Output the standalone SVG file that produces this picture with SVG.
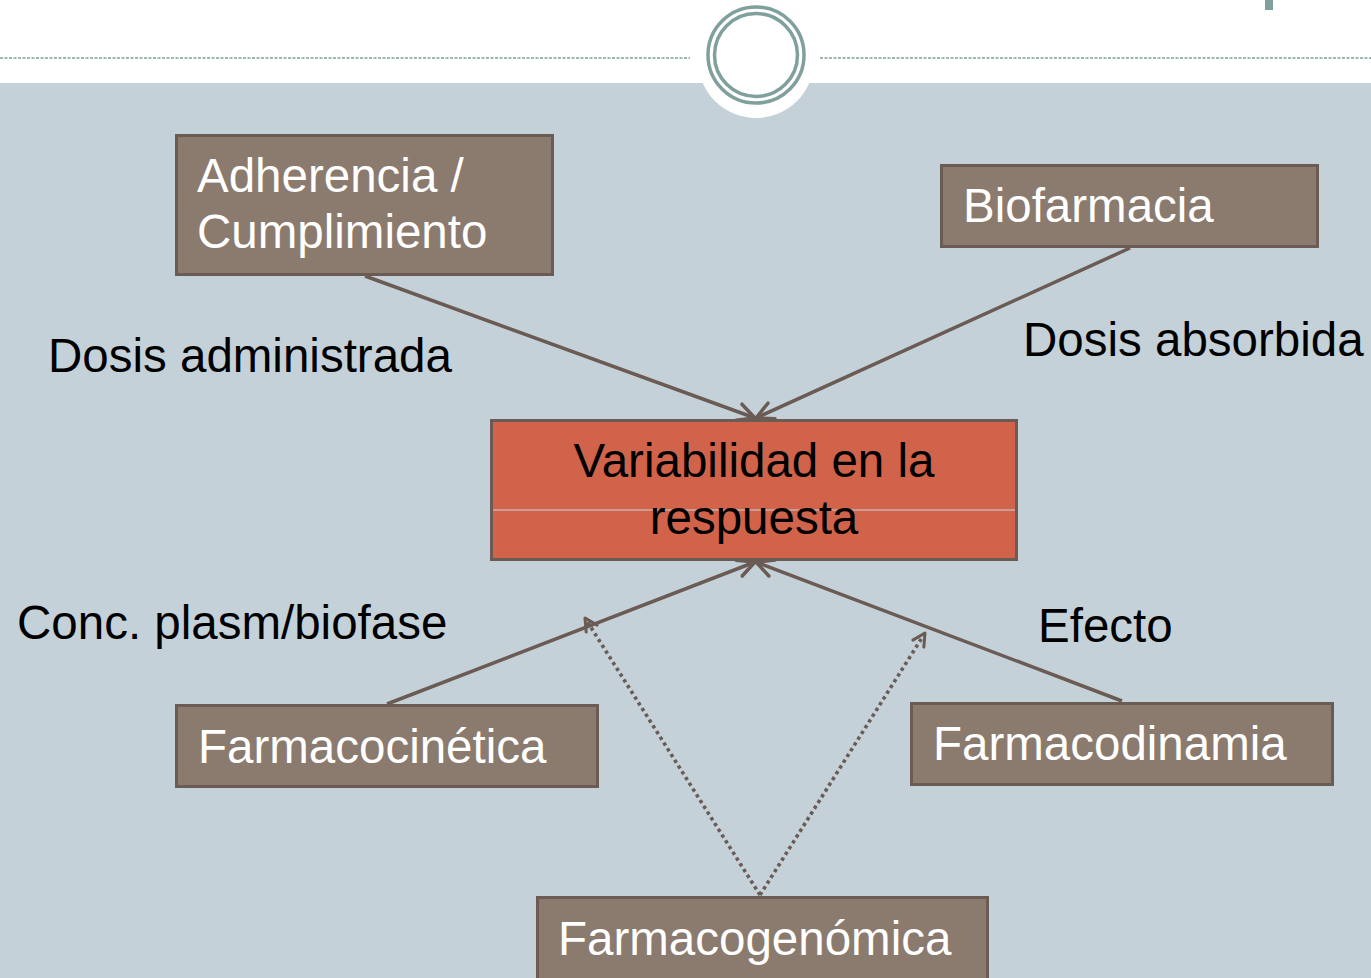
<svg xmlns="http://www.w3.org/2000/svg" width="1371" height="978" viewBox="0 0 1371 978">
<defs>
<style>
.box{fill:#8B7A6E;stroke:#6A5C54;stroke-width:3}
.lbl{font-family:"Liberation Sans",Arial,sans-serif;font-size:47.5px;fill:#FFFFFF}
.txt{font-family:"Liberation Sans",Arial,sans-serif;font-size:47.5px;fill:#000000}
.conn{fill:none;stroke:#6A5C54;stroke-width:3.5}
.dot{fill:none;stroke:#6A5C54;stroke-width:3.6;stroke-dasharray:3.4 3.4}
.ring{fill:none;stroke:#7FA09C;stroke-width:3.5}
</style>
<marker id="ah" markerUnits="userSpaceOnUse" markerWidth="26" markerHeight="26" viewBox="0 0 26 26" refX="22" refY="13" orient="auto">
<path d="M5,4.5 L22,13 L5,21.5" fill="none" stroke="#6A5C54" stroke-width="3.5" stroke-linecap="round" stroke-linejoin="round"/>
</marker>
<marker id="ahs" markerUnits="userSpaceOnUse" markerWidth="20" markerHeight="20" viewBox="0 0 20 20" refX="17" refY="10" orient="auto">
<path d="M4.5,3.5 L17,10 L4.5,16.5" fill="none" stroke="#6A5C54" stroke-width="3" stroke-linecap="round" stroke-linejoin="round"/>
</marker>
</defs>
<g id="background">
<rect x="0" y="0" width="1371" height="978" fill="#C5D1D8"/>
<rect x="0" y="0" width="1371" height="83" fill="#FFFFFF"/>
<circle cx="756" cy="60" r="58" fill="#FFFFFF"/>
<line x1="0" y1="58" x2="690" y2="58" stroke="#7FA09C" stroke-width="1.5" stroke-dasharray="3 1.5"/>
<line x1="820" y1="58" x2="1371" y2="58" stroke="#7FA09C" stroke-width="1.5" stroke-dasharray="3 1.5"/>
<circle class="ring" cx="756" cy="55" r="48"/>
<circle class="ring" cx="756" cy="55" r="41.5"/>
<rect x="1265" y="0" width="8" height="10" fill="#7FA09C"/>
</g>
<g id="connectors">
<line class="conn" x1="365" y1="276" x2="755" y2="418" marker-end="url(#ah)"/>
<line class="conn" x1="1130" y1="248" x2="756" y2="418" marker-end="url(#ah)"/>
<line class="conn" x1="387" y1="704" x2="755" y2="562" marker-end="url(#ah)"/>
<line class="conn" x1="1122" y1="701" x2="756" y2="562" marker-end="url(#ah)"/>
<line class="dot" x1="760" y1="895" x2="585" y2="618" marker-end="url(#ahs)"/>
<line class="dot" x1="760" y1="895" x2="925" y2="633" marker-end="url(#ahs)"/>
</g>
<g id="node-adherencia">
<rect class="box" x="176.5" y="135.5" width="376" height="139"/>
<text class="lbl" x="197" y="192">Adherencia /</text>
<text class="lbl" x="197" y="248">Cumplimiento</text>
</g>
<g id="node-biofarmacia">
<rect class="box" x="941.5" y="165.5" width="376" height="81"/>
<text class="lbl" x="963" y="222">Biofarmacia</text>
</g>
<g id="node-variabilidad">
<rect x="491.5" y="420.5" width="525" height="139" fill="#D0634A" stroke="#6A5C54" stroke-width="3"/>
<line x1="493" y1="510" x2="1015" y2="510" stroke="#C5D1D8" stroke-width="1.2"/>
<text class="txt" x="754" y="477" text-anchor="middle">Variabilidad en la</text>
<text class="txt" x="754" y="534" text-anchor="middle">respuesta</text>
</g>
<g id="node-farmacocinetica">
<rect class="box" x="176.5" y="705.5" width="421" height="81"/>
<text class="lbl" x="198" y="763">Farmacocinética</text>
</g>
<g id="node-farmacodinamia">
<rect class="box" x="911.5" y="703.5" width="421" height="81"/>
<text class="lbl" x="933" y="760">Farmacodinamia</text>
</g>
<g id="node-farmacogenomica">
<rect class="box" x="537.5" y="897.5" width="450" height="90"/>
<text class="lbl" x="558" y="955">Farmacogenómica</text>
</g>
<g id="labels">
<text class="txt" x="48" y="372">Dosis administrada</text>
<text class="txt" x="1023" y="356">Dosis absorbida</text>
<text class="txt" x="17" y="639">Conc. plasm/biofase</text>
<text class="txt" x="1038" y="642">Efecto</text>
</g>
</svg>
